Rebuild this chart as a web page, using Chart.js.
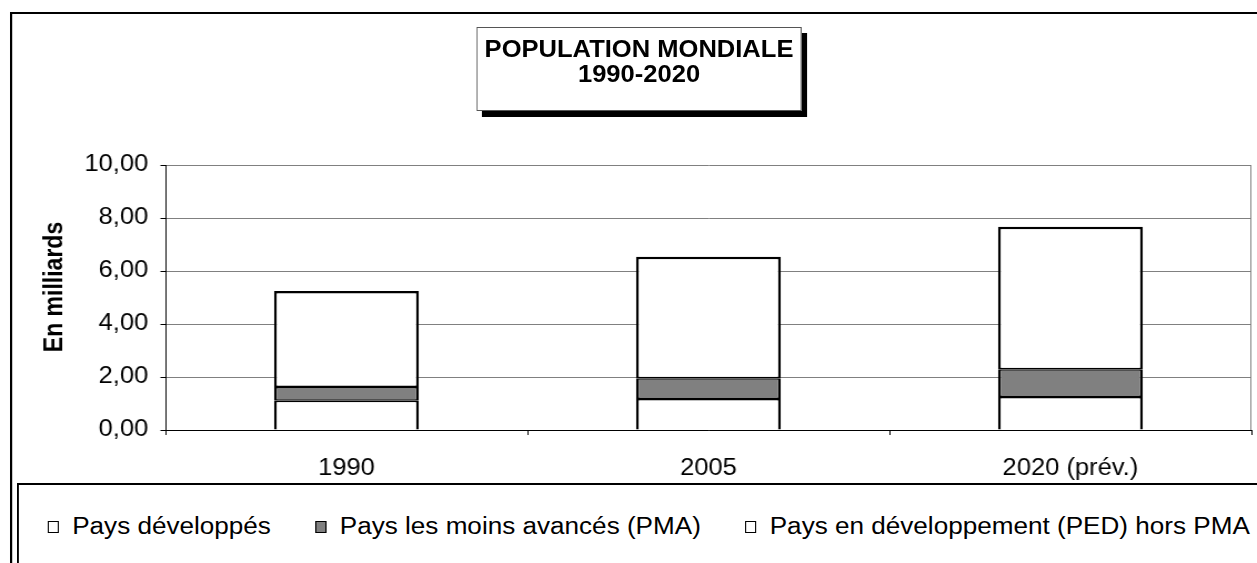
<!DOCTYPE html>
<html>
<head>
<meta charset="utf-8">
<script src="https://cdn.jsdelivr.net/npm/chart.js@4/dist/chart.umd.min.js"></script>
<style>
    html, body { margin: 0; padding: 0; background: #fff; overflow: hidden; }
    /* the original picture is a little stretched horizontally, so the page is drawn narrower and scaled */
    #page {
        position: absolute; left: 0; top: 0;
        width: 1132px; height: 563px;
        transform: scaleX(1.1104); transform-origin: 0 0;
        font-family: "Liberation Sans", Arial, sans-serif;
    }
    #frame {
        position: absolute; left: 9px; top: 12px; width: 1200px; height: 700px;
        border: 2px solid #000;
    }
    #chartBox { position: absolute; left: 0; top: 0; width: 1132px; height: 563px; }
    #titleBox {
        position: absolute; left: 429px; top: 27px; width: 291px; height: 73px;
        border: 1px solid #555; background: #fff;
        box-shadow: 5px 6px 0 #000;
        text-align: center; font-weight: bold; font-size: 23px; line-height: 25px;
        padding-top: 9px;
    }
    #legendBox {
        position: absolute; left: 15px; top: 483px; width: 1200px; height: 200px;
        border: 2px solid #000; background: #fff;
    }
    #legend {
        position: absolute; left: 26px; top: 28px;
        display: flex; gap: 40px; font-size: 23.5px; white-space: nowrap;
    }
    .item { display: flex; align-items: center; }
    .swatch { width: 8px; height: 10px; border: 1px solid #000; margin-right: 12px; }
</style>
</head>
<body>
<div id="page">
    <div id="frame"></div>
    <div id="chartBox"><canvas id="popChart"></canvas></div>
    <div id="titleBox">POPULATION MONDIALE<br>1990-2020</div>
    <div id="legendBox"><div id="legend"></div></div>
</div>
<script>
// Data (billions of people)
const categories = ['1990', '2005', '2020 (prév.)'];
const seriesNames = ['Pays développés', 'Pays les moins avancés (PMA)', 'Pays en développement (PED) hors PMA'];
const developpes = [1.10, 1.17, 1.25];
const pma = [0.52, 0.78, 1.04];
const pedHorsPma = [3.63, 4.59, 5.38];
const yTicks = [0, 2, 4, 6, 8, 10];
const seriesColors = ['#ffffff', '#808080', '#ffffff'];
const yTitle = 'En milliards';

const font = "'Liberation Sans', Arial, sans-serif";

// borders per segment so that the joins between stacked segments are not doubled
const segmentBorders = [
    { left: 2.5, right: 2.5, top: 1.5, bottom: 0 },
    { left: 2.5, right: 2.5, top: 1.5, bottom: 1.5 },
    { left: 2.5, right: 2.5, top: 2.5, bottom: 1.5 }
];

// gray border on the right of the plot area + rotated axis title (sits a bit above the middle)
const plotExtras = {
    id: 'plotExtras',
    afterDatasetsDraw(chart) {
        const { ctx, chartArea } = chart;
        ctx.save();
        ctx.strokeStyle = '#808080';
        ctx.lineWidth = 1;
        ctx.beginPath();
        ctx.moveTo(chartArea.right - 0.5, chartArea.top);
        ctx.lineTo(chartArea.right - 0.5, chartArea.bottom);
        ctx.stroke();

        ctx.translate(50, 287);
        ctx.rotate(-Math.PI / 2);
        ctx.fillStyle = '#000';
        ctx.font = "bold 23px " + font;
        ctx.textAlign = 'center';
        ctx.textBaseline = 'middle';
        ctx.fillText(yTitle, 0, 0);
        ctx.restore();
    }
};

document.addEventListener("DOMContentLoaded", () => {
    renderChart();
    renderLegend();
});

function renderChart() {
    const values = [developpes, pma, pedHorsPma];
    const ctx = document.getElementById('popChart').getContext('2d');
    new Chart(ctx, {
        type: 'bar',
        data: {
            labels: categories,
            datasets: values.map((v, i) => ({
                label: seriesNames[i],
                data: v,
                backgroundColor: seriesColors[i],
                borderColor: '#000',
                borderWidth: segmentBorders[i],
                borderSkipped: false,
                categoryPercentage: 1,
                barPercentage: 0.4
            }))
        },
        options: {
            responsive: true,
            maintainAspectRatio: false,
            animation: false,
            layout: { padding: { left: 0, top: 165, right: 5, bottom: 83 } },
            plugins: { legend: { display: false }, title: { display: false }, tooltip: { enabled: false } },
            scales: {
                x: {
                    stacked: true,
                    afterFit: s => { s.height = 50; },
                    grid: { display: true, drawOnChartArea: false, offset: true, tickLength: 5, color: '#000' },
                    border: { color: '#000', width: 1 },
                    ticks: { color: '#000', font: { family: font, size: 23 }, padding: 20, maxRotation: 0 }
                },
                y: {
                    stacked: true,
                    min: 0,
                    max: 10,
                    afterFit: s => { s.width = 149; },
                    afterBuildTicks: s => { s.ticks = yTicks.map(v => ({ value: v })); },
                    grid: { color: '#808080', tickColor: '#000', tickLength: 4.5 },
                    border: { color: '#000', width: 1 },
                    ticks: {
                        color: '#000',
                        font: { family: font, size: 23 },
                        padding: 11,
                        callback: v => v.toFixed(2).replace('.', ',')
                    },
                    title: { display: false }
                }
            }
        },
        plugins: [plotExtras]
    });
}

function renderLegend() {
    const legend = document.getElementById('legend');
    seriesNames.forEach((name, i) => {
        const item = document.createElement('div');
        item.className = 'item';
        const sw = document.createElement('span');
        sw.className = 'swatch';
        sw.style.background = seriesColors[i];
        const txt = document.createElement('span');
        txt.textContent = name;
        item.appendChild(sw);
        item.appendChild(txt);
        legend.appendChild(item);
    });
}
</script>
</body>
</html>
